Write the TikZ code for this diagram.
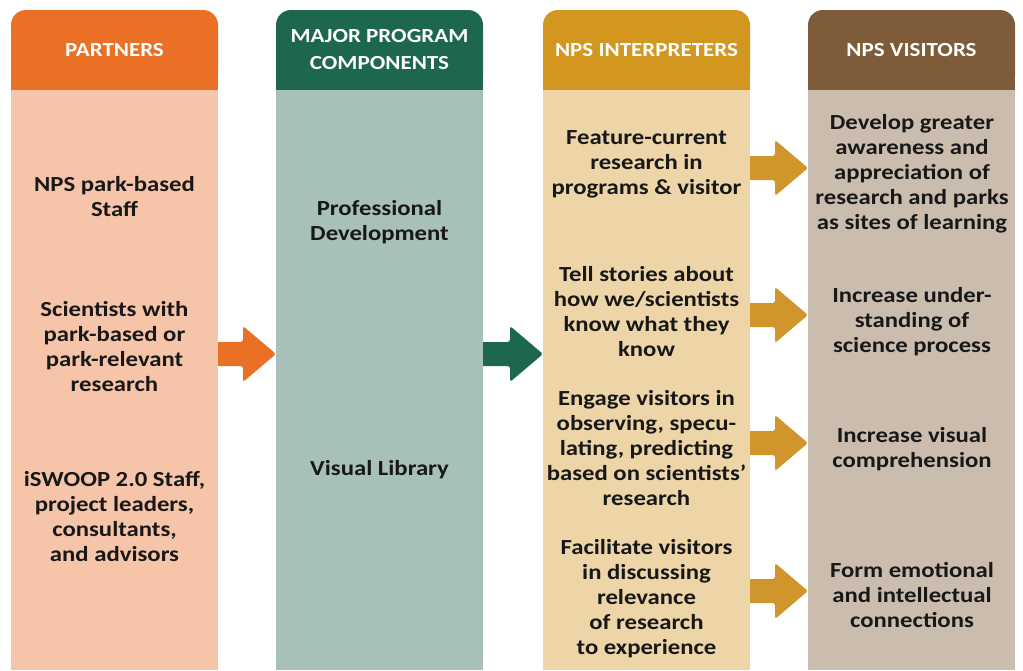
\documentclass[tikz,border=0pt]{standalone}
\usepackage{fontspec}
\setmainfont{Carlito}[FakeStretch=1.15]
\usetikzlibrary{calc,backgrounds}
\definecolor{orangeH}{HTML}{EA7026}
\definecolor{orangeB}{HTML}{F6C5A9}
\definecolor{greenH}{HTML}{1D6650}
\definecolor{greenB}{HTML}{A7C1BA}
\definecolor{goldH}{HTML}{D39720}
\definecolor{goldB}{HTML}{EDD5A8}
\definecolor{brownH}{HTML}{7F5C39}
\definecolor{brownB}{HTML}{CBBDAE}
\definecolor{goldA}{HTML}{D0952B}
\definecolor{txt}{HTML}{181818}
\newcommand\blockarrow[4]{%
  \fill[#4,rounded corners=2.5pt] let \p1=(#1.east),\p2=(#2.west),\p3=(0,#3) in
   (\x1-6pt,\y3+12pt) -- (\x2-33pt,\y3+12pt) -- (\x2-33pt,\y3+28pt) -- (\x2,\y3)
   -- (\x2-33pt,\y3-28pt) -- (\x2-33pt,\y3-12pt) -- (\x1-6pt,\y3-12pt) -- cycle;}
\begin{document}
\begin{tikzpicture}[x=1pt,y=-1pt,
  hdr/.style={rectangle,rounded corners=15pt,minimum width=207pt,minimum height=80pt,
    anchor=north west,inner sep=0pt,outer sep=0pt,text=white,align=center,
    font=\fontsize{20}{27}\selectfont\bfseries},
  body/.style={rectangle,minimum width=207pt,minimum height=580pt,anchor=north west,
    inner sep=0pt,outer sep=0pt},
  lbl/.style={align=center,text=txt,inner sep=0pt,font=\fontsize{21.5}{25}\selectfont\bfseries}]
\useasboundingbox (0,0) rectangle (1023,670);
% headers
\node[hdr,fill=orangeH] (h1) at (11,10) {PARTNERS};
\node[hdr,fill=greenH] (h2) at (276,10) {MAJOR PROGRAM\\COMPONENTS};
\node[hdr,fill=goldH] (h3) at (543,10) {NPS INTERPRETERS};
\node[hdr,fill=brownH] (h4) at (808,10) {NPS VISITORS};
\begin{scope}[on background layer]
  \fill[orangeH] (h1.west) rectangle (h1.south east);
  \fill[greenH] (h2.west) rectangle (h2.south east);
  \fill[goldH] (h3.west) rectangle (h3.south east);
  \fill[brownH] (h4.west) rectangle (h4.south east);
\end{scope}
% bodies
\node[body,fill=orangeB] (b1) at (11,90) {};
\node[body,fill=greenB] (b2) at (276,90) {};
\node[body,fill=goldB] (b3) at (543,90) {};
\node[body,fill=brownB] (b4) at (808,90) {};
% arrows
\begin{scope}[on background layer]
  \blockarrow{b1}{b2}{354}{orangeH}
  \blockarrow{b2}{b3}{354}{greenH}
  \blockarrow{b3}{b4}{168}{goldA}
  \blockarrow{b3}{b4}{315}{goldA}
  \blockarrow{b3}{b4}{443}{goldA}
  \blockarrow{b3}{b4}{591}{goldA}
\end{scope}
% texts column 1
\node[lbl] (t11) at (114.5,196.5) {NPS park-based\\Staff};
\node[lbl] (t12) at (114.5,346.5) {Scientists with\\park-based or\\park-relevant\\research};
\node[lbl] (t13) at (114.5,516.5) {iSWOOP 2.0 Staff,\\project leaders,\\consultants,\\and advisors};
% column 2
\node[lbl] (t21) at (379.5,222.5) {Professional\\Development};
\node[lbl] (t22) at (379.5,470) {Visual Library};
% column 3
\node[lbl] (t31) at (646.5,164) {Feature-current\\research in\\programs \& visitor};
\node[lbl] (t32) at (646.5,311.5) {Tell stories about\\how we/scientists\\know what they\\know};
\node[lbl] (t33) at (646.5,448.5) {Engage visitors in\\observing, specu-\\lating, predicting\\based on scientists’\\research};
\node[lbl] (t34) at (646.5,598.5) {Facilitate visitors\\in discussing\\relevance\\of research\\to experience};
% column 4
\node[lbl] (t41) at (912,173.5) {Develop greater\\awareness and\\appreciation of\\research and parks\\as sites of learning};
\node[lbl] (t42) at (912,321.5) {Increase under-\\standing of\\science process};
\node[lbl] (t43) at (912,449.5) {Increase visual\\comprehension};
\node[lbl] (t44) at (912,595) {Form emotional\\and intellectual\\connections};
\end{tikzpicture}
\end{document}
